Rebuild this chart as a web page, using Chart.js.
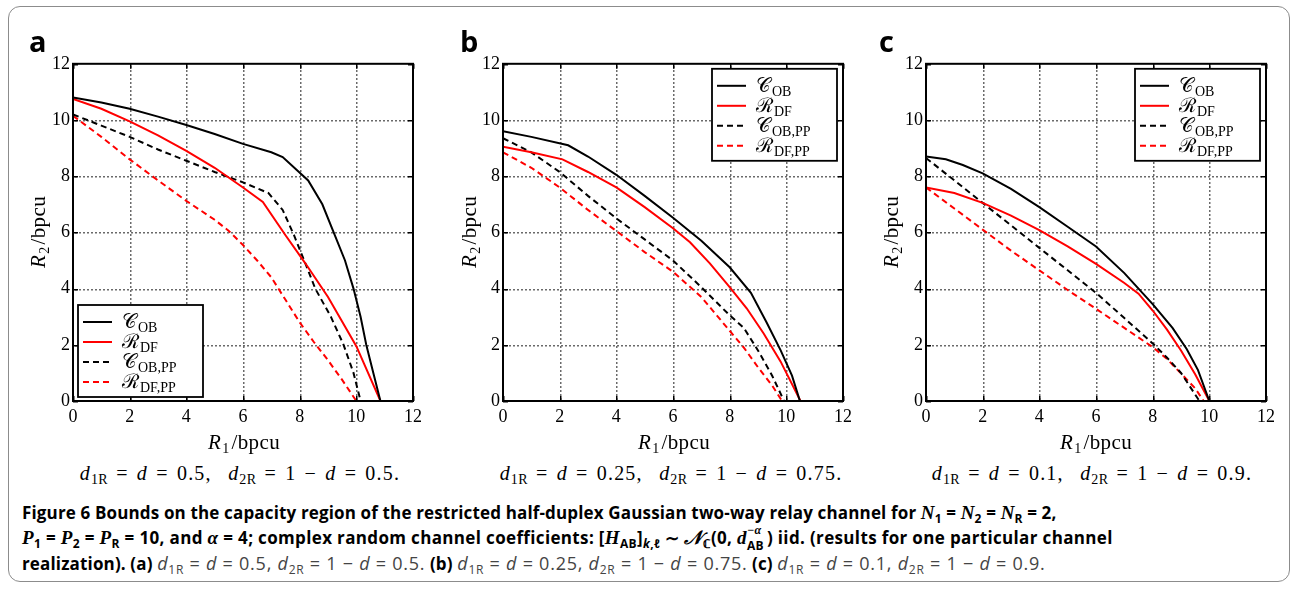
<!DOCTYPE html>
<html><head><meta charset="utf-8">
<script src="https://cdn.jsdelivr.net/npm/chart.js@4.4.1/dist/chart.umd.min.js"></script>
<style>
html,body{margin:0;padding:0;background:#fff;}
body{width:1292px;height:589px;position:relative;overflow:hidden;font-family:'Liberation Serif',serif;}
#frame{position:absolute;left:8px;top:6px;width:1282px;height:576px;border:1px solid #8c8c8c;border-radius:12px;box-sizing:border-box;}
canvas{position:absolute;}
.lbl{position:absolute;white-space:nowrap;line-height:1;}
.panel{font-family:'Open Sans',sans-serif;font-weight:700;font-size:29px;}
.axt{font-family:'Liberation Serif',serif;font-size:21px;letter-spacing:0.4px;transform:translate(-50%,-50%);}
.axy{transform:translate(-50%,-50%) rotate(-90deg);}
.axt sub,.sub sub{font-size:14px;position:relative;top:4px;vertical-align:baseline;line-height:0;font-style:normal;letter-spacing:0.3px;}
.axt sub{margin-right:2px;margin-left:1px;}
.sub{font-family:'Liberation Serif',serif;font-size:20px;letter-spacing:1.2px;word-spacing:2px;transform:translate(-50%,-50%);}
.capl{position:absolute;left:22px;font-family:'Open Sans',sans-serif;font-size:17px;line-height:20px;white-space:nowrap;color:#000;font-weight:700;letter-spacing:0.15px;}
.capl .m{font-family:'Liberation Serif',serif;font-style:italic;font-weight:700;font-size:19px;}
.capl .n{font-weight:400;color:#444;font-size:18px;letter-spacing:0.75px;}
.capl .n i{font-style:italic;}
.capl sub{font-size:12px;position:relative;top:4px;vertical-align:baseline;line-height:0;}
.stk{display:inline-block;position:relative;width:20px;height:10px;}
.stk .sp{position:absolute;left:0;top:-14px;font-size:12px;font-family:'Liberation Serif',serif;font-style:italic;}
.stk .sb{position:absolute;left:0;top:2px;font-size:12px;}
</style></head>
<body>
<div id="frame"></div>
<canvas id="ca" width="400" height="381" style="left:33px;top:50px;width:400px;height:381px"></canvas>
<canvas id="cb" width="400" height="381" style="left:463px;top:50px;width:400px;height:381px"></canvas>
<canvas id="cc" width="400" height="381" style="left:886px;top:50px;width:400px;height:381px"></canvas>

<div class="lbl panel" style="left:29px;top:26px">a</div>
<div class="lbl panel" style="left:460px;top:26px">b</div>
<div class="lbl panel" style="left:879px;top:26px">c</div>

<div class="lbl axt" style="left:244px;top:442px"><i>R</i><sub>1</sub>/bpcu</div>
<div class="lbl axt" style="left:674px;top:442px"><i>R</i><sub>1</sub>/bpcu</div>
<div class="lbl axt" style="left:1096px;top:442px"><i>R</i><sub>1</sub>/bpcu</div>
<div class="lbl axt axy" style="left:38px;top:232px"><i>R</i><sub>2</sub>/bpcu</div>
<div class="lbl axt axy" style="left:469px;top:232px"><i>R</i><sub>2</sub>/bpcu</div>
<div class="lbl axt axy" style="left:891px;top:232px"><i>R</i><sub>2</sub>/bpcu</div>

<div class="lbl sub" style="left:240px;top:473px"><i>d</i><sub>1R</sub> = <i>d</i> = 0.5,&nbsp; <i>d</i><sub>2R</sub> = 1 − <i>d</i> = 0.5.</div>
<div class="lbl sub" style="left:671px;top:473px"><i>d</i><sub>1R</sub> = <i>d</i> = 0.25,&nbsp; <i>d</i><sub>2R</sub> = 1 − <i>d</i> = 0.75.</div>
<div class="lbl sub" style="left:1092px;top:473px"><i>d</i><sub>1R</sub> = <i>d</i> = 0.1,&nbsp; <i>d</i><sub>2R</sub> = 1 − <i>d</i> = 0.9.</div>

<div class="capl" style="top:503px">Figure 6 Bounds on the capacity region of the restricted half-duplex Gaussian two-way relay channel for <span class="m">N</span><sub>1</sub> = <span class="m">N</span><sub>2</sub> = <span class="m">N</span><sub>R</sub> = 2,</div>
<div class="capl" style="top:528px;letter-spacing:0.35px"><span class="m">P</span><sub>1</sub> = <span class="m">P</span><sub>2</sub> = <span class="m">P</span><sub>R</sub> = 10, and <span class="m">α</span> = 4; complex random channel coefficients: [<span class="m">H</span><sub>AB</sub>]<sub><i>k</i>,<i>ℓ</i></sub> ∼ <span class="m">𝒩</span><sub>ℂ</sub>(0, <span class="m">d</span><span class="stk"><span class="sp">−α</span><span class="sb">AB</span></span>) iid. (results for one particular channel</div>
<div class="capl" style="top:553px">realization). (a) <span class="n"><i>d</i><sub>1R</sub> = <i>d</i> = 0.5, <i>d</i><sub>2R</sub> = 1 − <i>d</i> = 0.5.</span> (b) <span class="n"><i>d</i><sub>1R</sub> = <i>d</i> = 0.25, <i>d</i><sub>2R</sub> = 1 − <i>d</i> = 0.75.</span> (c) <span class="n"><i>d</i><sub>1R</sub> = <i>d</i> = 0.1, <i>d</i><sub>2R</sub> = 1 − <i>d</i> = 0.9.</span></div>

<script>
// ---- data: [R1, R2] pairs ----
const TICKS = [0, 2, 4, 6, 8, 10, 12];
const LEGEND_MAIN = ['𝒞', 'ℛ', '𝒞', 'ℛ'];
const LEGEND_SUB = ['OB', 'DF', 'OB,PP', 'DF,PP'];

// panel a
const A_COB = [[0,10.8],[1,10.62],[2,10.4],[3,10.12],[4,9.82],[5,9.5],[6,9.15],[7,8.85],[7.4,8.68],[8.3,7.85],[8.8,7.0],[9.2,6.0],[9.6,5.0],[9.9,4.0],[10.15,3.0],[10.35,2.0],[10.6,1.0],[10.85,0]];
const A_RDF = [[0,10.75],[1,10.4],[2,9.95],[3,9.45],[4,8.9],[5,8.3],[6,7.6],[6.7,7.08],[7.5,5.9],[8.2,4.9],[9,3.7],[10,1.95],[10.85,0]];
const A_COBPP = [[0,10.2],[1,9.8],[2,9.4],[3,8.95],[4,8.55],[5,8.15],[6,7.78],[6.9,7.4],[7.4,6.8],[7.8,5.9],[8.2,4.9],[8.55,4.0],[9.1,3.0],[9.55,2.0],[9.9,1.0],[10.15,0]];
const A_RDFPP = [[0,10.15],[1,9.4],[2,8.6],[3,7.85],[4,7.12],[5,6.45],[5.5,6.05],[6,5.55],[6.5,5.0],[7,4.4],[7.5,3.6],[8,2.8],[8.5,2.1],[9,1.45],[9.5,0.75],[10.0,0]];
// panel b
const B_COB = [[0,9.6],[1,9.4],[2.3,9.1],[3,8.7],[4,8.05],[5,7.3],[6,6.52],[7,5.7],[8,4.76],[8.75,3.85],[9.3,2.8],[9.8,1.8],[10.2,0.9],[10.48,0]];
const B_RDF = [[0,9.05],[1,8.85],[2.1,8.6],[3,8.15],[4,7.6],[5,6.9],[6,6.15],[6.6,5.65],[7.3,4.9],[8,4.05],[8.6,3.3],[9.2,2.4],[9.8,1.4],[10.5,0]];
const B_COBPP = [[0,9.35],[1,8.85],[2,8.15],[3,7.3],[4,6.5],[5,5.75],[6,5.0],[7,4.05],[8,3.05],[8.5,2.6],[9,1.8],[9.5,0.9],[9.92,0]];
const B_RDFPP = [[0,8.85],[1,8.3],[2,7.6],[3,6.8],[4,6.05],[5,5.3],[6,4.6],[7,3.7],[8,2.5],[8.5,1.9],[9,1.2],[9.5,0.55],[9.85,0]];
// panel c
const C_COB = [[0,8.7],[0.7,8.6],[1.3,8.4],[2,8.1],[3,7.55],[4,6.9],[5,6.2],[6,5.5],[7,4.55],[8,3.45],[8.7,2.6],[9.2,1.85],[9.6,1.1],[10,0]];
const C_RDF = [[0,7.6],[1,7.4],[2,7.05],[3,6.6],[4,6.08],[5,5.5],[6,4.88],[7,4.2],[7.5,3.82],[8,3.22],[8.5,2.55],[9,1.8],[9.5,0.95],[10,0]];
const C_COBPP = [[0,8.65],[1,7.85],[2,7.05],[3,6.25],[4,5.45],[5,4.65],[6,3.85],[7,2.95],[8,2.05],[8.5,1.55],[9,1.0],[9.65,0]];
const C_RDFPP = [[0,7.6],[1,6.85],[2,6.1],[3,5.35],[4,4.65],[5,3.95],[6,3.28],[7,2.6],[8,1.92],[8.5,1.5],[9,0.98],[9.5,0.45],[9.8,0]];

const toXY = arr => arr.map(p => ({x: p[0], y: p[1]}));

// dotted grid drawn behind the datasets at the scale's tick positions
function drawGrid(chart) {
  const ctx = chart.ctx, ca = chart.chartArea;
  const xs = chart.scales.x, ys = chart.scales.y;
  ctx.save();
  ctx.fillStyle = '#6a6a6a';
  TICKS.slice(1, -1).forEach(t => {
    const px = Math.round(xs.getPixelForValue(t));
    const py = Math.round(ys.getPixelForValue(t));
    for (let yy = ca.top + 2; yy < ca.bottom - 2; yy += 4) ctx.fillRect(px, Math.round(yy), 1.5, 2);
    for (let xx = ca.left + 2; xx < ca.right - 2; xx += 4) ctx.fillRect(Math.round(xx), py, 2, 1.5);
  });
  ctx.restore();
}

const dottedGrid = {
  id: 'dottedGrid',
  beforeDatasetsDraw(chart) { drawGrid(chart); }
};

const framePlugin = {
  id: 'boxFrame',
  afterDraw(chart) {
    const ctx = chart.ctx, ca = chart.chartArea;
    const xs = chart.scales.x, ys = chart.scales.y;
    ctx.save();
    ctx.fillStyle = '#000';
    TICKS.forEach(t => {
      const px = Math.round(xs.getPixelForValue(t));
      const py = Math.round(ys.getPixelForValue(t));
      ctx.fillRect(px, ca.bottom - 5, 1.5, 5);
      ctx.fillRect(px, ca.top, 1.5, 5);
      ctx.fillRect(ca.left, py, 5, 1.5);
      ctx.fillRect(ca.right - 5, py, 5, 1.5);
    });
    ctx.strokeStyle = '#000';
    ctx.lineWidth = 2;
    ctx.strokeRect(ca.left, ca.top, ca.right - ca.left, ca.bottom - ca.top);
    ctx.restore();
  }
};

const legendPlugin = {
  id: 'mLegend',
  afterDraw(chart, args, opts) {
    const ctx = chart.ctx, ca = chart.chartArea;
    const w = 125, h = 92;
    const x = opts.corner === 'bl' ? ca.left + 5 : ca.right - 6 - w;
    const y = opts.corner === 'bl' ? ca.bottom - 4 - h : ca.top + 5;
    ctx.save();
    ctx.fillStyle = '#fff';
    ctx.fillRect(x, y, w, h);
    ctx.strokeStyle = '#000';
    ctx.lineWidth = 1.8;
    ctx.strokeRect(x, y, w, h);
    chart.data.datasets.forEach((ds, i) => {
      const cy = y + 17 + i * 20;
      ctx.strokeStyle = ds.borderColor;
      ctx.lineWidth = ds.borderWidth;
      ctx.setLineDash(ds.borderDash || []);
      ctx.beginPath(); ctx.moveTo(x + 5, cy); ctx.lineTo(x + 34, cy); ctx.stroke();
      ctx.setLineDash([]);
      ctx.fillStyle = '#000';
      ctx.textBaseline = 'alphabetic';
      ctx.font = '20px "DejaVu Serif", "Liberation Serif", serif';
      ctx.fillText(LEGEND_MAIN[i], x + 44, cy + 6);
      const mw = ctx.measureText(LEGEND_MAIN[i]).width;
      ctx.font = '14px "Liberation Serif", serif';
      ctx.fillText(LEGEND_SUB[i], x + 44 + mw + 1, cy + 10);
    });
    ctx.restore();
  }
};

function makeChart(id, series, corner) {
  const styles = [
    {c: '#000000', d: []}, {c: '#ff0000', d: []},
    {c: '#000000', d: [6, 4]}, {c: '#ff0000', d: [6, 4]}
  ];
  const axis = (isY) => ({
    type: 'linear', min: 0, max: 12,
    afterBuildTicks: s => { s.ticks = TICKS.map(v => ({value: v})); },
    afterFit: s => { if (isY) s.width = 40; else s.height = 30; },
    grid: {display: false, drawTicks: false},
    border: {display: false},
    ticks: {color: '#000', padding: isY ? 3 : 5, font: {family: 'Liberation Serif', size: 18}, maxRotation: 0, autoSkip: false}
  });
  new Chart(document.getElementById(id), {
    type: 'line',
    data: {
      datasets: series.map((s, i) => ({
        data: toXY(s), borderColor: styles[i].c, borderDash: styles[i].d,
        borderWidth: 2, pointRadius: 0, tension: 0, fill: false
      }))
    },
    options: {
      responsive: false, animation: false,
      layout: {padding: {top: 12, right: 20, left: 0, bottom: 0}},
      scales: {x: axis(false), y: axis(true)},
      plugins: {legend: {display: false}, tooltip: {enabled: false}, mLegend: {corner: corner}}
    },
    plugins: [dottedGrid, framePlugin, legendPlugin]
  });
}

makeChart('ca', [A_COB, A_RDF, A_COBPP, A_RDFPP], 'bl');
makeChart('cb', [B_COB, B_RDF, B_COBPP, B_RDFPP], 'tr');
makeChart('cc', [C_COB, C_RDF, C_COBPP, C_RDFPP], 'tr');
</script>
</body></html>
